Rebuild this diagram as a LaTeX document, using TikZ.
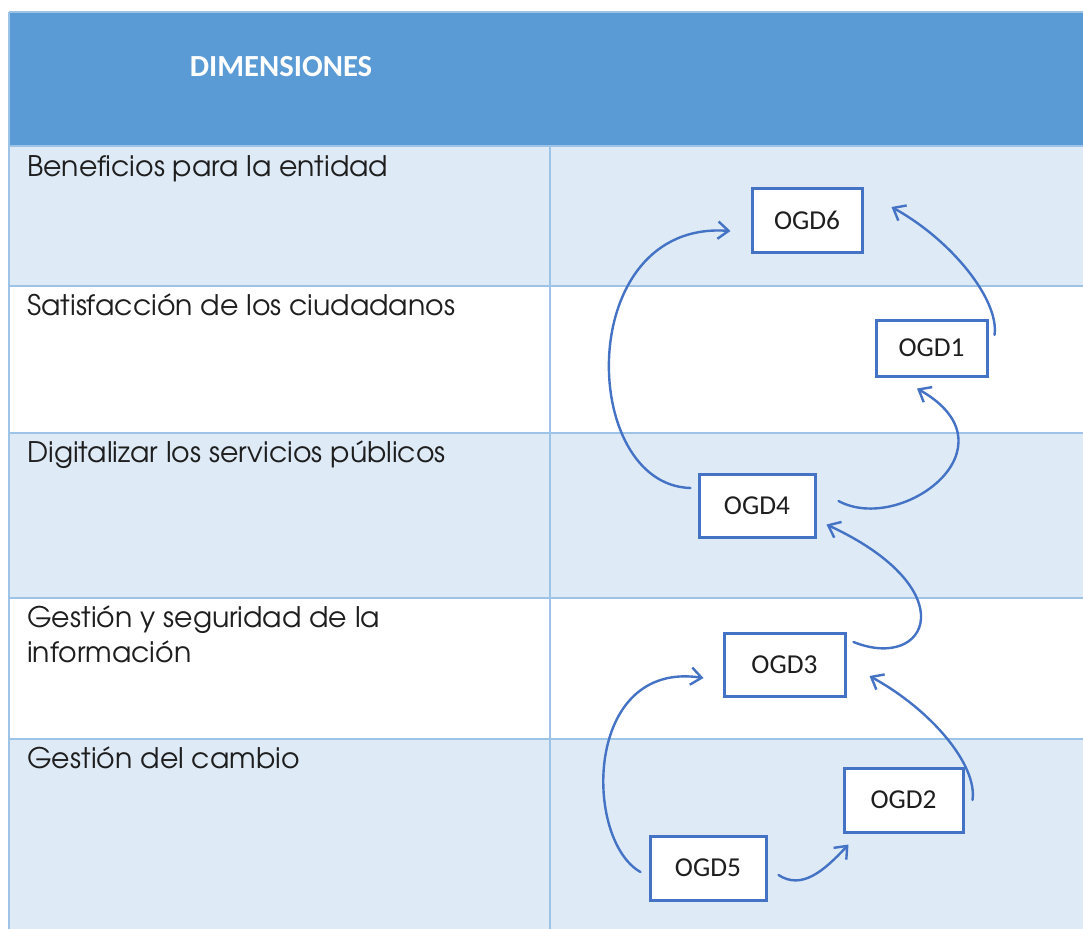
\documentclass[tikz,border=0pt]{standalone}
\usepackage{fontspec}
\usetikzlibrary{arrows.meta,calc}
\newfontfamily\calib{Carlito}
\newfontfamily\gothic{texgyreadventor-regular.otf}
\definecolor{headc}{HTML}{5B9BD5}
\definecolor{rowc}{HTML}{DEEAF6}
\definecolor{gridc}{HTML}{9DC3E6}
\definecolor{boxc}{HTML}{4472C4}
\definecolor{txtc}{HTML}{1E1E1E}
\begin{document}
\begin{tikzpicture}[x=0.75pt,y=-0.75pt,
  cellline/.style={draw=gridc, line width=1.1pt},
  dimtext/.style={anchor=base west, inner sep=0pt, font=\gothic\fontsize{21.25}{26.25}\selectfont, text=txtc, align=left},
  ogd/.style={draw=boxc, line width=2.25pt, fill=white, font=\calib\fontsize{20.5}{24}\selectfont, text=txtc, inner sep=0pt},
  link/.style={draw=boxc, line width=1.8pt, line cap=round, -{Straight Barb[length=8pt,width=13pt]}},
]
\useasboundingbox (0,0) rectangle (1083,929);
\fill[white] (0,0) rectangle (1083,929);
% table
\fill[headc] (9,12) rectangle (1083,146);
\fill[rowc] (9,146) rectangle (1083,286);
\fill[rowc] (9,433) rectangle (1083,598);
\fill[rowc] (9,739) rectangle (1083,929);
\draw[cellline] (9,12) -- (1083,12);
\foreach \yy in {146,286,433,598,739} \draw[cellline] (9,\yy) -- (1083,\yy);
\draw[cellline] (9,12) -- (9,929);
\draw[cellline] (550,146) -- (550,929);
% header
\node[font=\calib\bfseries\fontsize{23}{28}\selectfont, text=white] (hd) at (281,67) {DIMENSIONES};
% dimensions
\node[dimtext] (d1) at (27,176) {Beneficios para la entidad};
\node[dimtext] (d2) at (27,315) {Satisfacción de los ciudadanos};
\node[dimtext] (d3) at (27,462) {Digitalizar los servicios públicos};
\node[dimtext] (d4) at (27,662) {Gestión y seguridad de la\\información};
\node[dimtext] (d5) at (27,768) {Gestión del cambio};
% objectives
\node[ogd, minimum width=82.5pt, minimum height=48pt] (o6) at (807,220) {OGD6};
\node[ogd, minimum width=83.25pt, minimum height=42pt] (o1) at (931.5,348) {OGD1};
\node[ogd, minimum width=87pt, minimum height=47.25pt] (o4) at (757,505.5) {OGD4};
\node[ogd, minimum width=90.75pt, minimum height=47.25pt] (o3) at (784.5,664.5) {OGD3};
\node[ogd, minimum width=89.25pt, minimum height=48pt] (o2) at (903.5,800) {OGD2};
\node[ogd, minimum width=87pt, minimum height=48pt] (o5) at (708,868) {OGD5};
% connector ends
\coordinate (s1) at ($(o4.west)+(-7,-17.5)$);
\coordinate (e1) at ($(o6.west)+(-20,11)$);
\coordinate (s2) at ($(o1.east)+(6,-13)$);
\coordinate (e2) at ($(o6.east)+(28,-13)$);
\coordinate (s3) at ($(o4.east)+(22,-4.5)$);
\coordinate (e3) at ($(o1.south)+(-14.5,11)$);
\coordinate (s4) at ($(o3.east)+(7,-22.5)$);
\coordinate (e4) at ($(o4.south east)+(10,-14)$);
\coordinate (s5) at ($(o5.west)+(-8,4)$);
\coordinate (e5) at ($(o3.west)+(-19,13.5)$);
\coordinate (s6) at ($(o2.east)+(8,0)$);
\coordinate (e6) at ($(o3.east)+(23,11.5)$);
\coordinate (s7) at ($(o5.east)+(11,7)$);
\coordinate (e7) at ($(o2.south west)+(6,11)$);
% connectors
\draw[link] (s1) .. controls +(-112,-3) and +(-157,-11) .. (e1);
\draw[link] (s2) .. controls +(5,-35) and +(60,33) .. (e2);
\draw[link] (s3) .. controls +(63,34) and +(103,58) .. (e3);
\draw[link] (s4) .. controls +(75,30) and +(140,65) .. (e4);
\draw[link] (s5) .. controls +(-57,-32) and +(-120,-18) .. (e5);
\draw[link] (s6) .. controls +(5,-35) and +(62,34) .. (e6);
\draw[link] (s7) .. controls +(23,15) and +(-25,27) .. (e7);
\end{tikzpicture}
\end{document}
